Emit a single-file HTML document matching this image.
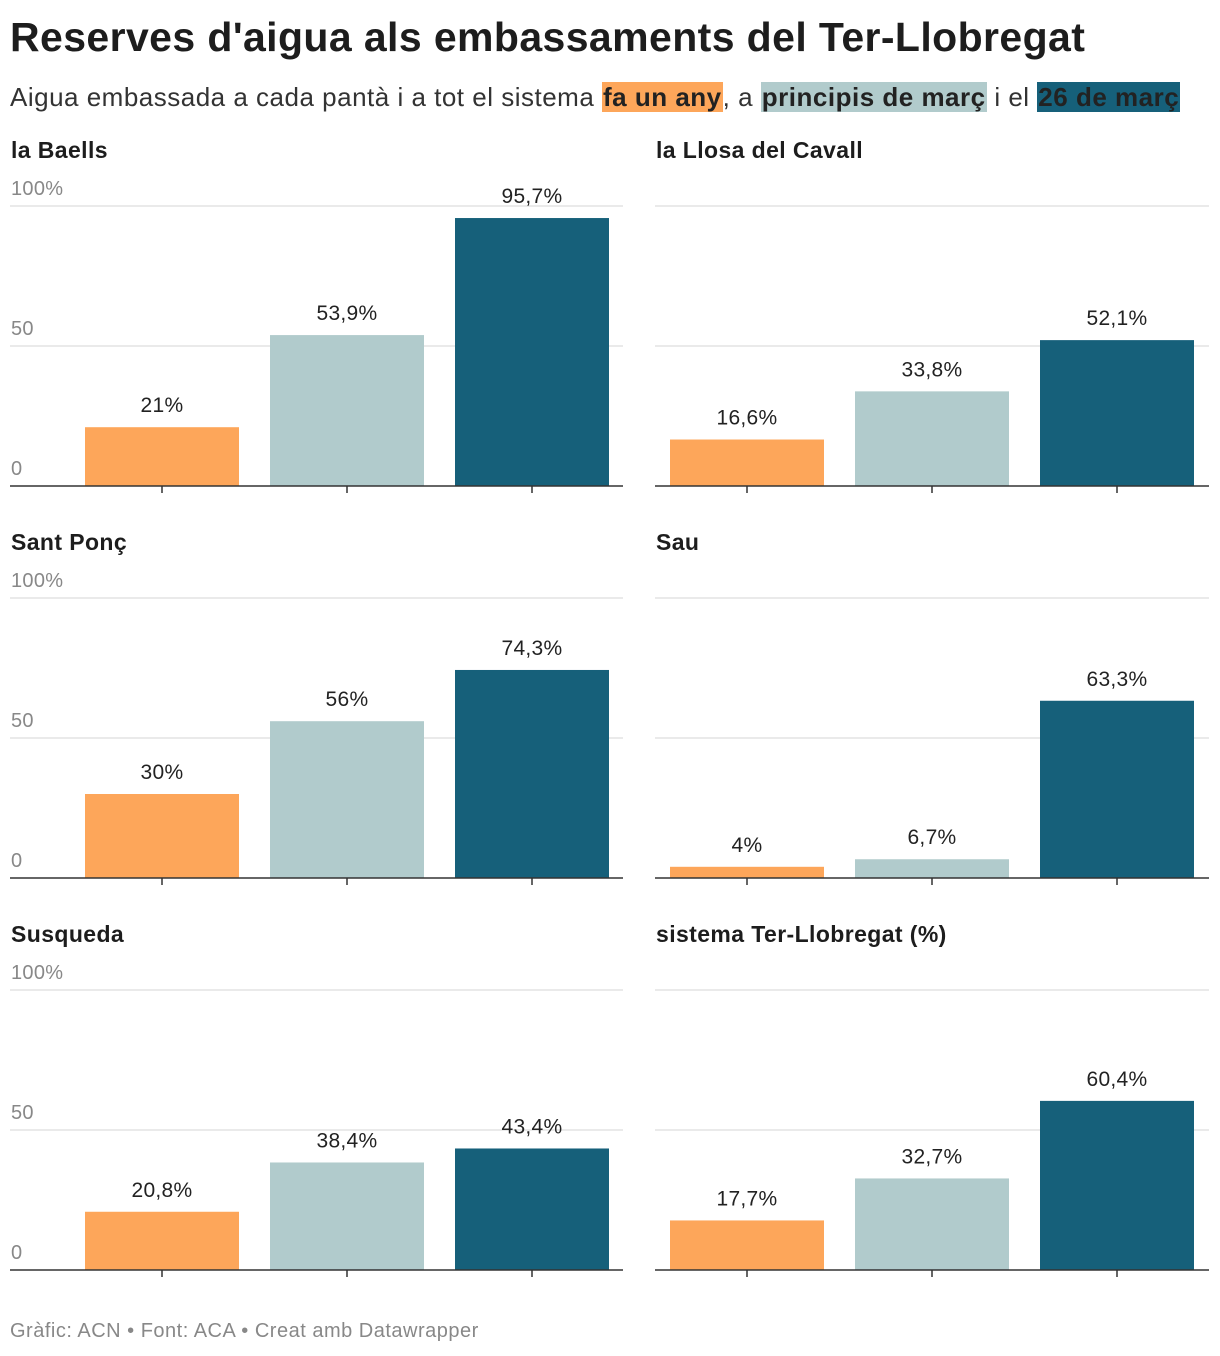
<!DOCTYPE html>
<html><head><meta charset="utf-8">
<style>
body{margin:0;width:1220px;height:1356px;background:#fff;font-family:"Liberation Sans",Roboto,sans-serif;color:#1d1d1d;overflow:hidden;position:relative}
h1{position:absolute;left:10px;top:14px;margin:0;font-size:41px;font-weight:bold;letter-spacing:0.4px;color:#1d1d1d}
.sub{position:absolute;left:10px;top:82px;font-size:26px;letter-spacing:0.5px;color:#333;white-space:nowrap}
.hl{font-weight:bold;color:#222;padding:0 1px}
.foot{position:absolute;left:10px;top:1320px;font-size:20px;letter-spacing:0.5px;color:#888}
svg{position:absolute;left:0;top:0}
</style></head><body>
<h1>Reserves d'aigua als embassaments del Ter-Llobregat</h1>
<div class="sub">Aigua embassada a cada pantà i a tot el sistema <span class="hl" style="background:#fda65a">fa un any</span>, a <span class="hl" style="background:#b1cbcc">principis de març</span> i el <span class="hl" style="background:#16607a">26 de març</span></div>
<svg id="chart" width="1220" height="1356"></svg>
<div class="foot">Gràfic: ACN • Font: ACA • Creat amb Datawrapper</div>
<script>
const panels=["la Baells","la Llosa del Cavall","Sant Ponç","Sau","Susqueda","sistema Ter-Llobregat (%)"];
const faUnAny=[21,16.6,30,4,20.8,17.7];
const principisMarc=[53.9,33.8,56,6.7,38.4,32.7];
const marc26=[95.7,52.1,74.3,63.3,43.4,60.4];
const ticks=[0,50,100];
const colors=["#fda65a","#b1cbcc","#16607a"];
const svg=document.getElementById('chart');
const NS="http://www.w3.org/2000/svg";
function mk(t,a,p){const e=document.createElementNS(NS,t);for(const k in a)e.setAttribute(k,a[k]);(p||svg).appendChild(e);return e;}
function fmt(v){return String(v).replace('.',',')+'%';}
panels.forEach((name,i)=>{
  const col=i%2,row=Math.floor(i/2);
  const x0=col?655:10,x1=col?1209:623;
  const base=486+row*392;
  const y=v=>base-v*2.8;
  const g=mk('g',{});
  
  
  const t=mk('text',{x:x0+1,y:base-328,'font-size':23,'font-weight':'bold','letter-spacing':0.4,fill:'#1d1d1d'},g);t.textContent=name;
  
  ticks.forEach(tv=>{
    if(tv>0){const l=mk('line',{x1:x0,x2:x1,y1:y(tv),y2:y(tv),stroke:'#e3e3e3','stroke-width':1.5},g);
      }
    if(col===0){const tl=mk('text',{x:x0+1,y:y(tv)-11,'font-size':20,'letter-spacing':0.3,fill:'#888'},g);tl.textContent=tv===100?'100%':String(tv);
      }
  });
  const vals=[faUnAny[i],principisMarc[i],marc26[i]];
  const bw=154, step=185, start=col?670:85;
  vals.forEach((v,j)=>{
    const bx=start+j*step;
    const r=mk('rect',{x:bx,y:y(v),width:bw,height:base-y(v),fill:colors[j]},g);
    
    const lb=mk('text',{x:bx+bw/2,y:y(v)-15,'font-size':21,'letter-spacing':0.3,'text-anchor':'middle',fill:'#222'},g);lb.textContent=fmt(v);
    
    const tk=mk('line',{x1:bx+bw/2,x2:bx+bw/2,y1:base,y2:base+7,stroke:'#333','stroke-width':1.5},g);
    
  });
  const ax=mk('line',{x1:x0,x2:x1,y1:base,y2:base,stroke:'#333','stroke-width':1.5},g);
  
});
</script>
</body></html>
